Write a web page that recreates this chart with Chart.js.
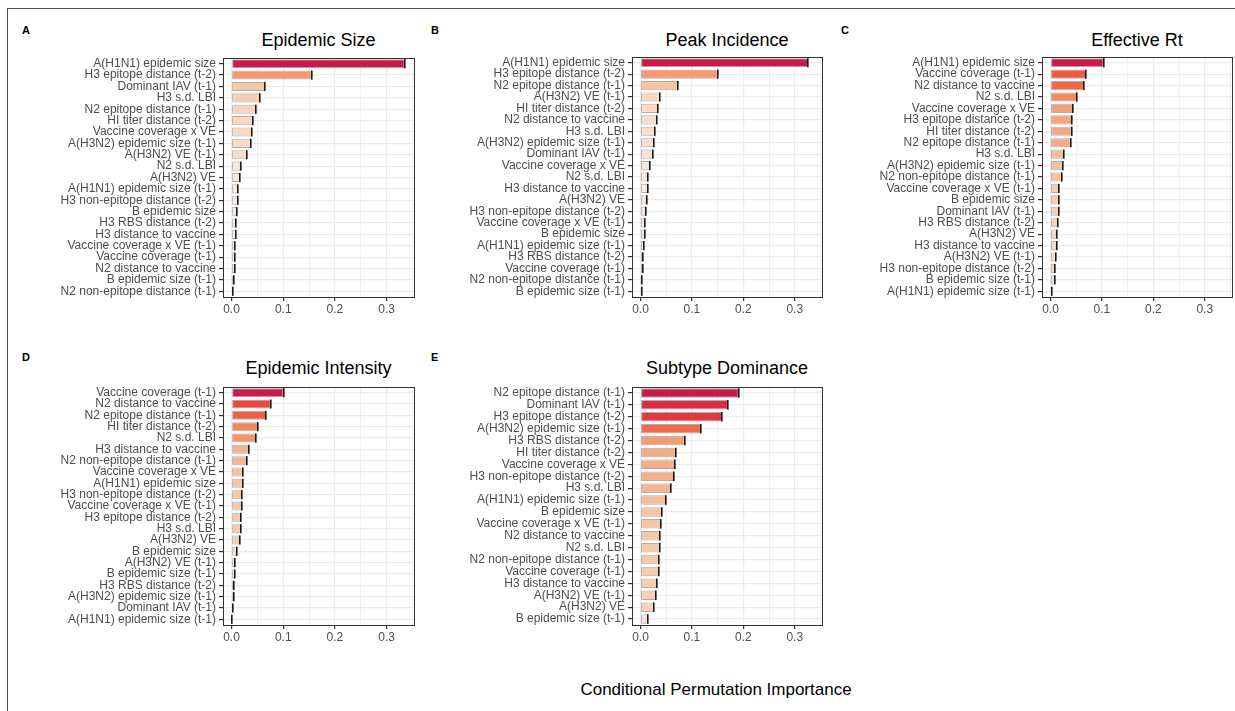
<!DOCTYPE html>
<html>
<head>
<meta charset="utf-8">
<script src="https://cdn.jsdelivr.net/npm/chart.js@4.4.1/dist/chart.umd.min.js"></script>
<style>
  body { margin: 0; background: #fff; }
  #fig { position: relative; width: 1235px; height: 711px; overflow: hidden; font-family: "Liberation Sans", Arial, sans-serif; }
  #fig canvas { position: absolute; }
  .frameTop { position: absolute; left: 7px; top: 8px; width: 1228px; height: 1px; background: #555; }
  .frameLeft { position: absolute; left: 7px; top: 8px; width: 1px; height: 703px; background: #555; }
  .tag { position: absolute; font-weight: bold; font-size: 11px; line-height: 12px; color: #000; }
  .ttl { position: absolute; font-size: 18px; line-height: 20px; color: #000; transform: translateX(-50%); white-space: nowrap; }
  .xlab { position: absolute; left: 716px; top: 680px; font-size: 17px; line-height: 20px; transform: translateX(-50%); white-space: nowrap; }
</style>
</head>
<body>
<div id="fig">
  <div class="frameTop"></div>
  <div class="frameLeft"></div>
  <div class="xlab">Conditional Permutation Importance</div>
</div>
<script>
// panel A
const sizeLabels = ['A(H1N1) epidemic size', 'H3 epitope distance (t-2)', 'Dominant IAV (t-1)', 'H3 s.d. LBI',
  'N2 epitope distance (t-1)', 'HI titer distance (t-2)', 'Vaccine coverage x VE', 'A(H3N2) epidemic size (t-1)',
  'A(H3N2) VE (t-1)', 'N2 s.d. LBI', 'A(H3N2) VE', 'A(H1N1) epidemic size (t-1)', 'H3 non-epitope distance (t-2)',
  'B epidemic size', 'H3 RBS distance (t-2)', 'H3 distance to vaccine', 'Vaccine coverage x VE (t-1)',
  'Vaccine coverage (t-1)', 'N2 distance to vaccine', 'B epidemic size (t-1)', 'N2 non-epitope distance (t-1)'];
const sizeValues = [0.335, 0.155, 0.065, 0.055, 0.047, 0.042, 0.040, 0.037, 0.030, 0.0175, 0.016,
  0.013, 0.012, 0.0097, 0.009, 0.0085, 0.007, 0.0068, 0.0065, 0.0055, 0.0035];

// panel B
const peakLabels = ['A(H1N1) epidemic size', 'H3 epitope distance (t-2)', 'N2 epitope distance (t-1)', 'A(H3N2) VE (t-1)',
  'HI titer distance (t-2)', 'N2 distance to vaccine', 'H3 s.d. LBI', 'A(H3N2) epidemic size (t-1)',
  'Dominant IAV (t-1)', 'Vaccine coverage x VE', 'N2 s.d. LBI', 'H3 distance to vaccine', 'A(H3N2) VE',
  'H3 non-epitope distance (t-2)', 'Vaccine coverage x VE (t-1)', 'B epidemic size', 'A(H1N1) epidemic size (t-1)',
  'H3 RBS distance (t-2)', 'Vaccine coverage (t-1)', 'N2 non-epitope distance (t-1)', 'B epidemic size (t-1)'];
const peakValues = [0.326, 0.150, 0.072, 0.038, 0.035, 0.032, 0.0285, 0.026, 0.024, 0.018, 0.014,
  0.014, 0.012, 0.010, 0.009, 0.008, 0.0065, 0.0045, 0.0045, 0.0035, 0.002];

// panel C
const rtLabels = ['A(H1N1) epidemic size', 'Vaccine coverage (t-1)', 'N2 distance to vaccine', 'N2 s.d. LBI',
  'Vaccine coverage x VE', 'H3 epitope distance (t-2)', 'HI titer distance (t-2)', 'N2 epitope distance (t-1)',
  'H3 s.d. LBI', 'A(H3N2) epidemic size (t-1)', 'N2 non-epitope distance (t-1)', 'Vaccine coverage x VE (t-1)',
  'B epidemic size', 'Dominant IAV (t-1)', 'H3 RBS distance (t-2)', 'A(H3N2) VE', 'H3 distance to vaccine',
  'A(H3N2) VE (t-1)', 'H3 non-epitope distance (t-2)', 'B epidemic size (t-1)', 'A(H1N1) epidemic size (t-1)'];
const rtValues = [0.1035, 0.070, 0.065, 0.052, 0.0445, 0.042, 0.041, 0.039, 0.0265, 0.024, 0.0225,
  0.0175, 0.0175, 0.0168, 0.014, 0.0117, 0.0117, 0.0104, 0.0097, 0.0097, 0.0026];

// panel D
const intensityLabels = ['Vaccine coverage (t-1)', 'N2 distance to vaccine', 'N2 epitope distance (t-1)',
  'HI titer distance (t-2)', 'N2 s.d. LBI', 'H3 distance to vaccine', 'N2 non-epitope distance (t-1)',
  'Vaccine coverage x VE', 'A(H1N1) epidemic size', 'H3 non-epitope distance (t-2)', 'Vaccine coverage x VE (t-1)',
  'H3 epitope distance (t-2)', 'H3 s.d. LBI', 'A(H3N2) VE', 'B epidemic size', 'A(H3N2) VE (t-1)',
  'B epidemic size (t-1)', 'H3 RBS distance (t-2)', 'A(H3N2) epidemic size (t-1)', 'Dominant IAV (t-1)',
  'A(H1N1) epidemic size (t-1)'];
const intensityValues = [0.1006, 0.076, 0.067, 0.0516, 0.0477, 0.033, 0.030, 0.0226, 0.0213, 0.020, 0.0194,
  0.0187, 0.018, 0.0168, 0.0103, 0.0071, 0.0065, 0.0052, 0.0045, 0.0026, 0.0013];

// panel E
const dominanceLabels = ['N2 epitope distance (t-1)', 'Dominant IAV (t-1)', 'H3 epitope distance (t-2)',
  'A(H3N2) epidemic size (t-1)', 'H3 RBS distance (t-2)', 'HI titer distance (t-2)', 'Vaccine coverage x VE',
  'H3 non-epitope distance (t-2)', 'H3 s.d. LBI', 'A(H1N1) epidemic size (t-1)', 'B epidemic size',
  'Vaccine coverage x VE (t-1)', 'N2 distance to vaccine', 'N2 s.d. LBI', 'N2 non-epitope distance (t-1)',
  'Vaccine coverage (t-1)', 'H3 distance to vaccine', 'A(H3N2) VE (t-1)', 'A(H3N2) VE', 'B epidemic size (t-1)'];
const dominanceValues = [0.191, 0.170, 0.159, 0.118, 0.086, 0.069, 0.068, 0.066, 0.060, 0.050, 0.041,
  0.0406, 0.038, 0.0374, 0.036, 0.0355, 0.032, 0.0297, 0.0265, 0.0148];

const xTicks = [0, 0.05, 0.1, 0.15, 0.2, 0.25, 0.3, 0.35];
const xMin = -0.0165, xMax = 0.353;

const panels = [
  { tag: 'A', title: 'Epidemic Size', labels: sizeLabels, values: sizeValues, left: 223, right: 414, top: 58, bottom: 297, tagX: 22, tagY: 24, titleY: 30 },
  { tag: 'B', title: 'Peak Incidence', labels: peakLabels, values: peakValues, left: 632, right: 822, top: 57, bottom: 297, tagX: 431, tagY: 24, titleY: 30 },
  { tag: 'C', title: 'Effective Rt', labels: rtLabels, values: rtValues, left: 1042, right: 1232, top: 57, bottom: 297, tagX: 841, tagY: 24, titleY: 30 },
  { tag: 'D', title: 'Epidemic Intensity', labels: intensityLabels, values: intensityValues, left: 223, right: 414, top: 387, bottom: 625, tagX: 22, tagY: 351, titleY: 358 },
  { tag: 'E', title: 'Subtype Dominance', labels: dominanceLabels, values: dominanceValues, left: 632, right: 822, top: 387, bottom: 625, tagX: 431, tagY: 351, titleY: 358 }
];

// fill colour scaled by share of the panel maximum
const stops = [
  [0, [253, 242, 234]], [0.05, [251, 230, 217]], [0.2, [247, 199, 166]], [0.36, [245, 173, 136]],
  [0.45, [244, 156, 116]], [0.5, [242, 139, 96]], [0.63, [239, 103, 73]], [0.7, [236, 85, 64]],
  [0.8, [228, 62, 63]], [0.9, [216, 42, 70]], [1, [200, 27, 75]]
];
function rampColor(t) {
  for (let i = 1; i < stops.length; i++) {
    if (t <= stops[i][0]) {
      const a = stops[i - 1], b = stops[i];
      const f = (t - a[0]) / (b[0] - a[0]);
      const c = a[1].map((v, k) => Math.round(v + (b[1][k] - v) * f));
      return 'rgb(' + c.join(',') + ')';
    }
  }
  return 'rgb(200,27,75)';
}

const panelBox = {
  id: 'panelBox',
  afterDraw(chart) {
    const a = chart.chartArea, ctx = chart.ctx;
    ctx.save();
    ctx.strokeStyle = '#333';
    ctx.lineWidth = 1;
    ctx.strokeRect(Math.round(a.left) + 0.5, Math.round(a.top) + 0.5, Math.round(a.right - a.left), Math.round(a.bottom - a.top));
    ctx.restore();
  }
};

const endCaps = {
  id: 'endCaps',
  afterDatasetsDraw(chart) {
    const ctx = chart.ctx;
    ctx.save();
    ctx.fillStyle = '#1a1a1a';
    chart.getDatasetMeta(0).data.forEach(bar => {
      ctx.fillRect(Math.round(bar.x) - 1, bar.y - bar.height / 2, 1.6, bar.height);
    });
    ctx.restore();
  }
};

const fig = document.getElementById('fig');

panels.forEach(p => {
  const padTop = 1, padRight = 3, xAxisH = 22, yAxisW = 213;
  const cx = p.left - yAxisW;
  const w = yAxisW + (p.right - p.left) + padRight;
  const h = padTop + (p.bottom - p.top) + xAxisH;

  const tag = document.createElement('div');
  tag.className = 'tag';
  tag.style.left = p.tagX + 'px';
  tag.style.top = p.tagY + 'px';
  tag.textContent = p.tag;
  fig.appendChild(tag);

  const ttl = document.createElement('div');
  ttl.className = 'ttl';
  ttl.style.left = ((p.left + p.right) / 2) + 'px';
  ttl.style.top = p.titleY + 'px';
  ttl.textContent = p.title;
  fig.appendChild(ttl);

  const canvas = document.createElement('canvas');
  canvas.width = w;
  canvas.height = h;
  canvas.style.left = cx + 'px';
  canvas.style.top = (p.top - padTop) + 'px';
  canvas.style.width = w + 'px';
  canvas.style.height = h + 'px';
  fig.appendChild(canvas);

  const maxV = Math.max(...p.values);

  new Chart(canvas.getContext('2d'), {
    type: 'bar',
    data: {
      labels: p.labels,
      datasets: [{
        data: p.values,
        backgroundColor: p.values.map(v => rampColor(v / maxV)),
        borderColor: 'rgba(110,110,110,0.55)',
        borderWidth: 1,
        borderSkipped: false,
        barPercentage: 0.8,
        categoryPercentage: 1
      }]
    },
    options: {
      indexAxis: 'y',
      responsive: false,
      animation: false,
      devicePixelRatio: 1,
      layout: { padding: { top: padTop, right: padRight, left: 0, bottom: 0 } },
      plugins: { legend: { display: false }, tooltip: { enabled: false }, title: { display: false } },
      scales: {
        x: {
          type: 'linear',
          min: xMin,
          max: xMax,
          afterBuildTicks: scale => { scale.ticks = xTicks.map(v => ({ value: v })); },
          afterFit: scale => { scale.height = xAxisH; scale.paddingLeft = 0; scale.paddingRight = 0; },
          border: { display: false },
          grid: {
            color: '#ebebeb',
            lineWidth: ctx => (Math.round(ctx.tick.value * 100) % 10 === 0 ? 1.2 : 0.8),
            tickLength: 4,
            tickColor: ctx => (Math.round(ctx.tick.value * 100) % 10 === 0 ? '#333' : 'rgba(0,0,0,0)')
          },
          ticks: {
            autoSkip: false,
            maxRotation: 0,
            padding: 1,
            color: '#4d4d4d',
            font: { family: 'Liberation Sans', size: 12 },
            callback: v => (Math.round(v * 100) % 10 === 0 ? v.toFixed(1) : '')
          }
        },
        y: {
          type: 'category',
          afterFit: scale => { scale.width = yAxisW; scale.paddingTop = 0; scale.paddingBottom = 0; },
          border: { display: false },
          grid: { color: '#ebebeb', lineWidth: 1.2, offset: false, tickLength: 4, tickColor: '#333' },
          ticks: {
            autoSkip: false,
            padding: 3,
            color: '#4d4d4d',
            font: { family: 'Liberation Sans', size: 12 }
          }
        }
      }
    },
    plugins: [panelBox, endCaps]
  });
});
</script>
</body>
</html>
